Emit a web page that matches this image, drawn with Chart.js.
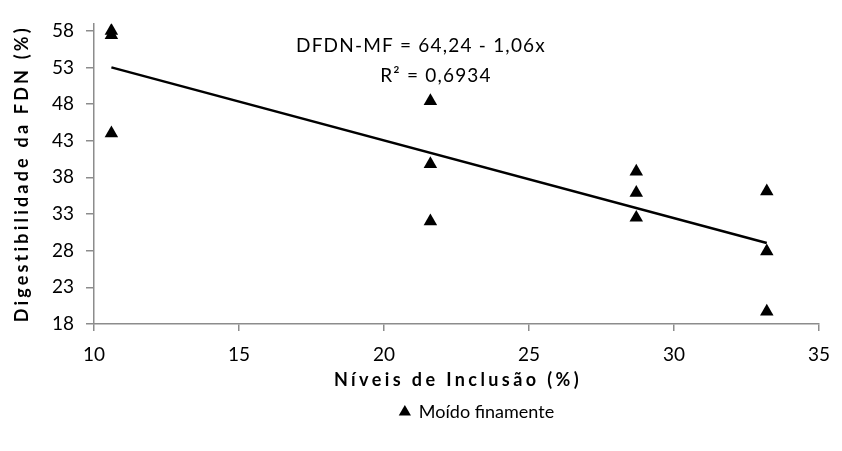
<!DOCTYPE html>
<html>
<head>
<meta charset="utf-8">
<script src="https://cdn.jsdelivr.net/npm/chart.js@4.4.1/dist/chart.umd.min.js"></script>
<style>
  html, body { margin: 0; padding: 0; background: #fff; }
  #wrap { width: 842px; height: 451px; position: relative; }
</style>
</head>
<body>
<div id="wrap"><canvas id="fdnChart"></canvas></div>
<script>
// niveis de inclusao (%) e digestibilidade da FDN (%)
const inclusao = [10.6, 10.6, 10.6, 21.6, 21.6, 21.6, 28.7, 28.7, 28.7, 33.2, 33.2, 33.2];
const digestFDN = [58.0, 57.4, 44.0, 48.4, 39.8, 32.0, 38.8, 35.9, 32.5, 36.1, 27.9, 19.7];
const yTicks = [18, 23, 28, 33, 38, 43, 48, 53, 58];
const trendX = [10.6, 33.2];
const intercept = 64.24;
const slope = -1.06;
const equationLines = ['DFDN-MF = 64,24 - 1,06x', 'R² = 0,6934'];
const serieLabel = 'Moído finamente';
const xTitle = 'Níveis de Inclusão (%)';
const yTitle = 'Digestibilidade da FDN (%)';

const FONT = 'Lato, "Open Sans", sans-serif';
const axisGray = '#8c8c8c';

const pontos = inclusao.map((x, i) => ({x, y: digestFDN[i]}));
const tendencia = trendX.map(x => ({x, y: intercept + slope * x}));

// textos extras (titulos dos eixos e equacao) com espacamento entre letras
const textosPlugin = {
    id: 'textos',
    afterLayout(chart) {
        // legenda do Excel fica deslocada para a direita e mais abaixo
        if (chart.legend) {
            chart.legend.left += 64;
            chart.legend.right += 64;
            chart.legend.top += 10;
            chart.legend.bottom += 10;
        }
    },
    afterDraw(chart) {
        const {ctx, chartArea} = chart;
        ctx.save();
        ctx.fillStyle = '#000';
        ctx.textAlign = 'center';
        ctx.textBaseline = 'middle';

        ctx.font = '19px ' + FONT;
        ctx.letterSpacing = '1.2px';
        ctx.fillText(equationLines[0], 421, 46);
        ctx.fillText(equationLines[1], 436, 76);

        ctx.font = 'bold 18px ' + FONT;
        ctx.letterSpacing = '3.4px';
        ctx.fillText(xTitle, 458, 380);

        ctx.save();
        ctx.translate(22, (chartArea.top + chartArea.bottom) / 2);
        ctx.rotate(-Math.PI / 2);
        ctx.letterSpacing = '3.2px';
        ctx.fillText(yTitle, 0, 0);
        ctx.restore();
        ctx.restore();
    }
};

new Chart(document.getElementById('fdnChart'), {
    type: 'scatter',
    data: {
        datasets: [
            {
                label: serieLabel,
                data: pontos,
                pointStyle: 'triangle',
                pointRadius: 7.8,
                pointHoverRadius: 7.8,
                backgroundColor: '#000',
                borderColor: '#000',
                borderWidth: 0
            },
            {
                label: 'tendencia',
                type: 'line',
                data: tendencia,
                borderColor: '#000',
                borderWidth: 2.5,
                pointRadius: 0,
                fill: false
            }
        ]
    },
    options: {
        responsive: true,
        maintainAspectRatio: false,
        animation: false,
        layout: {padding: {top: 17, right: 16, left: 0, bottom: 30}},
        scales: {
            x: {
                type: 'linear',
                min: 10,
                max: 35,
                border: {color: axisGray, width: 1.5},
                grid: {display: true, drawOnChartArea: false, drawTicks: true, tickLength: 7, color: axisGray, lineWidth: 1.5},
                ticks: {stepSize: 5, padding: 12, color: '#000', font: {family: FONT, size: 19}},
                afterFit(scale) { scale.height = 63; }
            },
            y: {
                type: 'linear',
                min: 18,
                max: 59,
                border: {color: axisGray, width: 1.5},
                grid: {display: true, drawOnChartArea: false, drawTicks: true, tickLength: 8, color: axisGray, lineWidth: 1.5},
                ticks: {padding: 12, color: '#000', font: {family: FONT, size: 19}},
                afterBuildTicks(scale) { scale.ticks = yTicks.map(v => ({value: v})); },
                afterFit(scale) { scale.width = 94; }
            }
        },
        plugins: {
            legend: {
                display: true,
                position: 'bottom',
                labels: {
                    filter: item => item.datasetIndex === 0,
                    usePointStyle: true,
                    pointStyle: 'triangle',
                    boxWidth: 10,
                    boxHeight: 10,
                    padding: 6,
                    color: '#000',
                    font: {family: FONT, size: 18}
                }
            },
            tooltip: {enabled: false}
        }
    },
    plugins: [textosPlugin]
});
</script>
</body>
</html>
